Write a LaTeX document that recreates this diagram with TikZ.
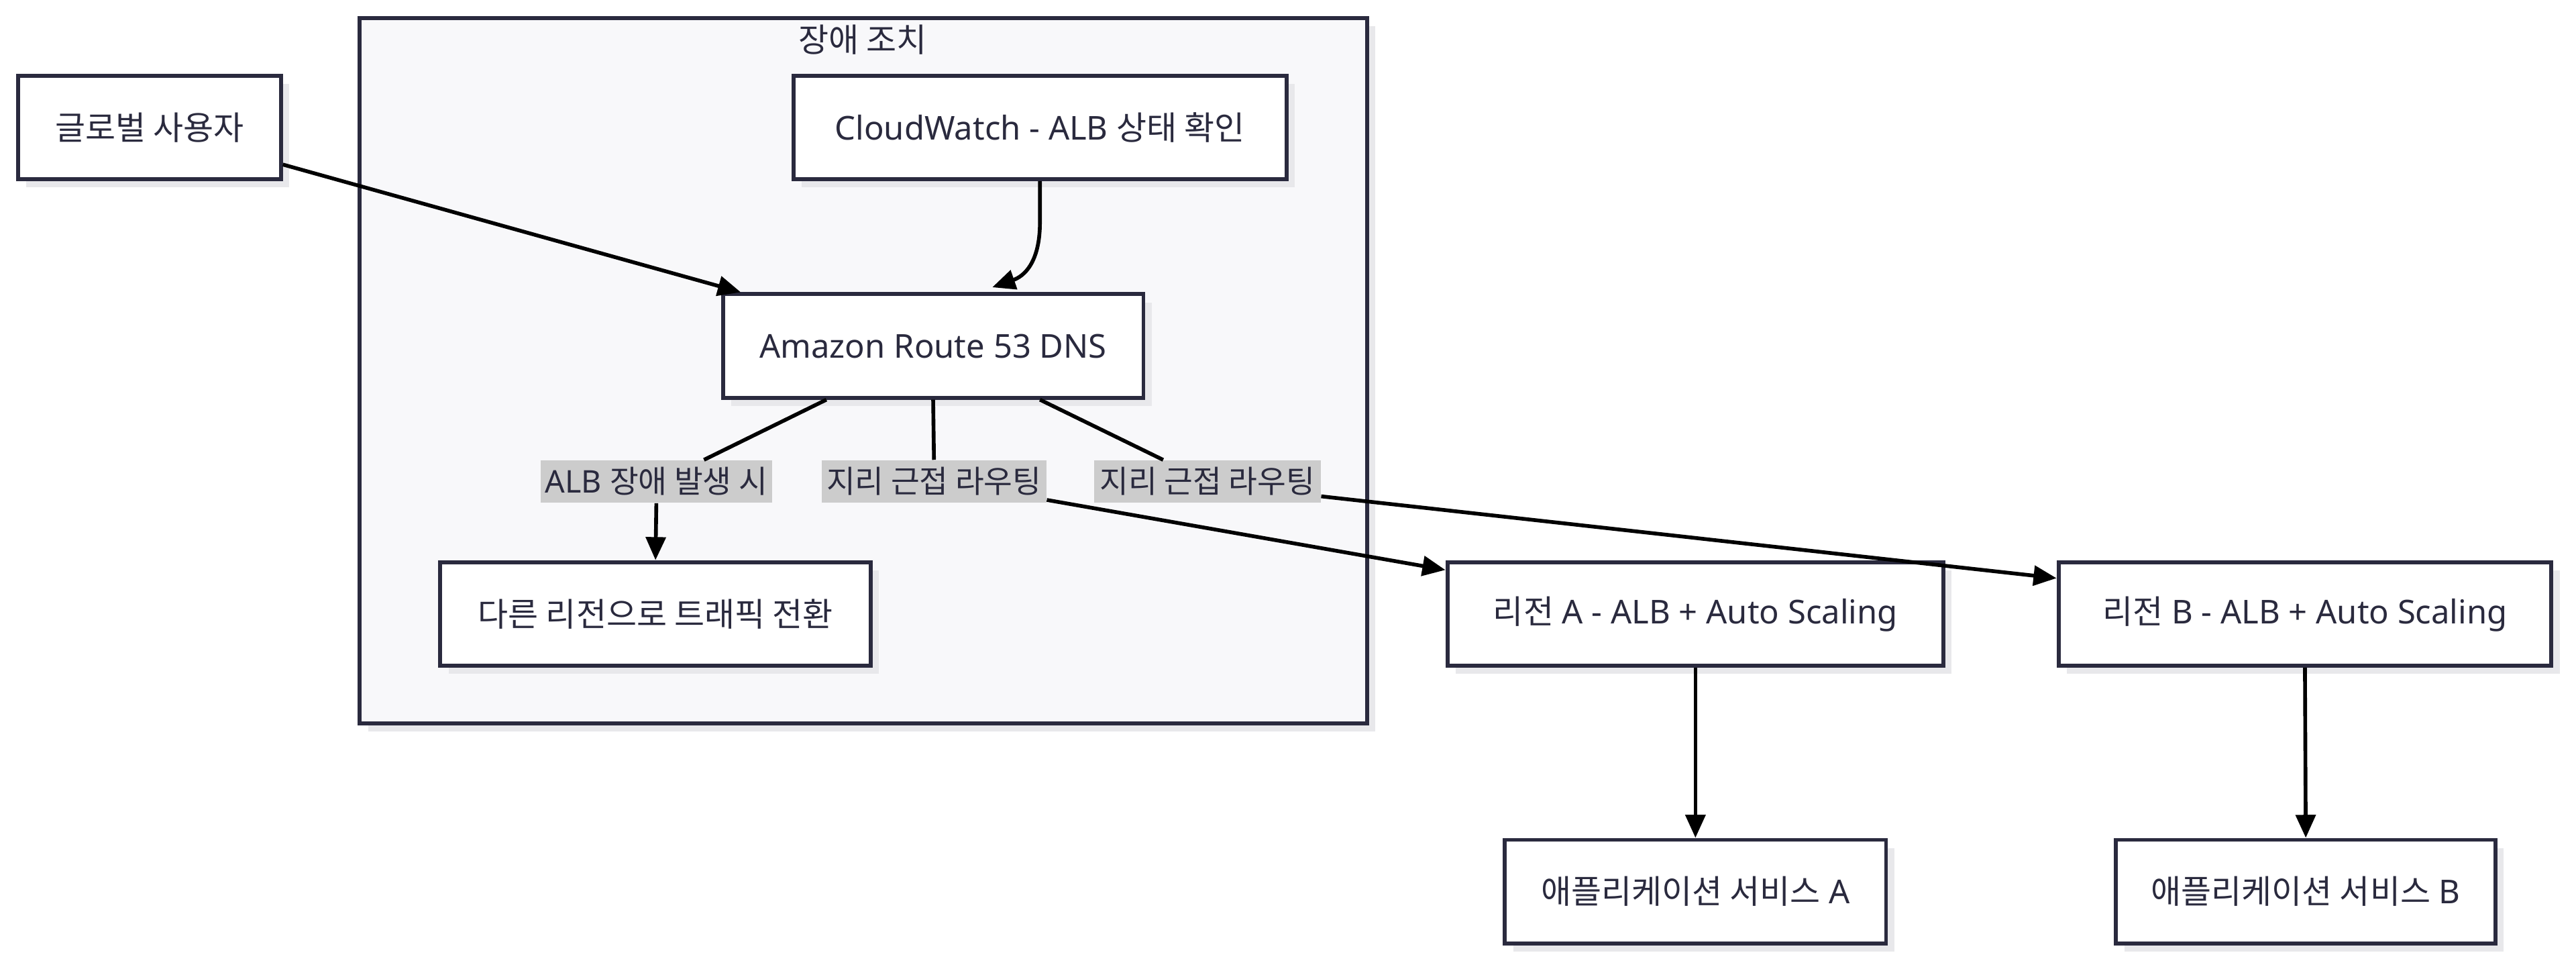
\documentclass[tikz,border=0pt]{standalone}
\usepackage{fontspec}
\setmainfont{Noto Sans}
\newfontfamily\kr{Noto Sans CJK KR}
\usetikzlibrary{arrows.meta,calc,shadows}
\definecolor{bord}{RGB}{42,42,62}
\definecolor{clfill}{RGB}{248,248,250}
\definecolor{shadowc}{RGB}{232,232,235}
\definecolor{lblbg}{RGB}{204,204,204}
\definecolor{txt}{RGB}{42,42,62}
\tikzset{
  shad/.style={drop shadow={shadow xshift=5pt,shadow yshift=-5pt,opacity=1,fill=shadowc}},
  box/.style={draw=bord,line width=2.4pt,fill=white,minimum height=63pt,text=txt,
    font=\fontsize{20}{24}\selectfont,inner sep=0pt,shad},
  lbl/.style={fill=lblbg,text=txt,font=\fontsize{19}{23}\selectfont,inner xsep=0pt,inner ysep=0pt,
    minimum height=26pt},
  link/.style={draw=black,line width=2.3pt},
  arr/.style={link,-{Triangle[length=14pt,width=12pt]}},
}
\begin{document}
\begin{tikzpicture}[x=1pt,y=-1pt]
\useasboundingbox (0,0) rectangle (1568,587);
% cluster
\node[draw=bord,line width=2.4pt,fill=clfill,shad,minimum width=613pt,minimum height=429pt,inner sep=0pt] (cl) at (525.5,225.5) {};
\node[text=txt,font=\fontsize{20}{24}\selectfont] (cltitle) at (525,24) {{\kr 장애 조치}};
% nodes
\node[box,minimum width=160pt] (user) at (91,77.5) {{\kr 글로벌 사용자}};
\node[box,minimum width=300pt] (cw) at (633,77.5) {CloudWatch - ALB {\kr 상태 확인}};
\node[box,minimum width=256pt] (r53) at (568,210.5) {Amazon Route 53 DNS};
\node[box,minimum width=262pt] (alt) at (399,373.5) {{\kr 다른 리전으로 트래픽 전환}};
\node[box,minimum width=302pt] (rA) at (1032,373.5) {{\kr 리전} A - ALB + Auto Scaling};
\node[box,minimum width=300pt] (rB) at (1403,373.5) {{\kr 리전} B - ALB + Auto Scaling};
\node[box,minimum width=232pt] (sA) at (1032,542.5) {{\kr 애플리케이션 서비스} A};
\node[box,minimum width=231pt] (sB) at (1403.5,542.5) {{\kr 애플리케이션 서비스} B};
% labels
\node[lbl,minimum width=141pt] (l1) at (399.5,293) {ALB {\kr 장애 발생 시}};
\node[lbl,minimum width=137pt] (l2) at (568.5,293) {{\kr 지리 근접 라우팅}};
\node[lbl,minimum width=138pt] (l3) at (735,293) {{\kr 지리 근접 라우팅}};
% edges
\draw[arr] (user) -- (r53);
\draw[arr] (cw.south) -- ($(cw.south)+(0,25)$) .. controls ($(cw.south)+(0,50)$) and ($(cw.south)+(-10,58)$) .. ($(r53.north)+(36,-3)$);
\draw[link] ($(r53.south)+(-65,0)$) -- ($(l1.north)+(29,0)$);
\draw[arr] (l1.south) -- (alt.north);
\draw[link] (r53.south) -- (l2.north);
\draw[arr] ($(l2.south east)+(0,-2)$) -- ($(rA.north west)+(0,6)$);
\draw[link] ($(r53.south)+(65,0)$) -- ($(l3.north)+(-27,0)$);
\draw[arr] ($(l3.east)+(0,9)$) -- ($(rB.north west)+(0,11)$);
\draw[arr] (rA.south) -- (sA.north);
\draw[arr] (rB.south) -- (sB.north);
\end{tikzpicture}
\end{document}
